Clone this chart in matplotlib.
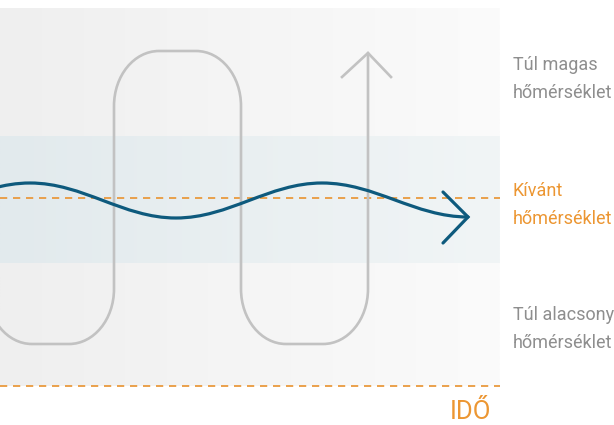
import numpy as np
import matplotlib
matplotlib.use("Agg")
import matplotlib.pyplot as plt
from matplotlib.path import Path
from matplotlib.patches import PathPatch
from matplotlib.colors import LinearSegmentedColormap

# ---- data (diagram in pixel-like coordinates, y grows downward) ----
panel_right = 500
panel_top, panel_bottom = 8, 386
band_top, band_bottom = 136, 263
desired_y = 198
# gray (uncontrolled) path: turning posts, high/low extreme
gray_posts = [-13, 114, 241, 368]
gray_high, gray_low = 51, 344
gray_tip = 53
# blue (controlled) wave: extreme points
wave_x = [-116, 30, 176, 322, 468]
wave_y = [218, 183, 218, 183, 217]
labels = ["Túl magas\nhőmérséklet", "Kívánt\nhőmérséklet", "Túl alacsony\nhőmérséklet"]
label_y = [79, 205, 329]
axis_label = "IDŐ"

GRAY_TXT = "#8e8e8e"
ORANGE = "#ec9632"
BLUE = "#0e5a7d"
LINE_GRAY = "#c2c2c2"

fig = plt.figure(figsize=(6.14, 4.25), dpi=100)
ax = fig.add_axes([0, 0, 1, 1])
ax.axis("off")

# background gradient panel
grad = np.linspace(0, 1, 256)[None, :]
bg_cmap = LinearSegmentedColormap.from_list("bg", ["#efefef", "#fbfbfb"])
band_cmap = LinearSegmentedColormap.from_list("band", ["#e2eaed", "#f1f5f6"])
ax.imshow(grad, cmap=bg_cmap, extent=[0, panel_right, panel_bottom, panel_top],
          aspect="auto", zorder=0, interpolation="bilinear")
ax.imshow(grad, cmap=band_cmap, extent=[0, panel_right, band_bottom, band_top],
          aspect="auto", zorder=0.5, interpolation="bilinear")
ax.set_xlim(0, 614)
ax.set_ylim(425, 0)

# dashed lines
dash = (0, (4, 3.2))
ax.plot([0, panel_right], [desired_y, desired_y], color="#e99a3e", lw=1.3,
        linestyle=dash, zorder=2)
ax.plot([0, panel_right], [panel_bottom, panel_bottom], color="#e99a3e", lw=1.3,
        linestyle=dash, zorder=2)

# gray path built from the posts
rx, ry = 45, 55
k = 0.5523
verts = [(gray_posts[0], 200)]
codes = [Path.MOVETO]
for i in range(len(gray_posts) - 1):
    xa, xb = gray_posts[i], gray_posts[i + 1]
    yext = gray_low if i % 2 == 0 else gray_high
    s = 1 if i % 2 == 0 else -1
    verts += [(xa, yext - s * ry)]
    codes += [Path.LINETO]
    verts += [(xa, yext - s * ry + s * k * ry), (xa + rx - k * rx, yext), (xa + rx, yext)]
    codes += [Path.CURVE4] * 3
    verts += [(xb - rx, yext)]
    codes += [Path.LINETO]
    verts += [(xb - rx + k * rx, yext), (xb, yext - s * ry + s * k * ry), (xb, yext - s * ry)]
    codes += [Path.CURVE4] * 3
verts += [(gray_posts[-1], gray_tip)]
codes += [Path.LINETO]
ax.add_patch(PathPatch(Path(verts, codes), facecolor="none", edgecolor=LINE_GRAY,
                       lw=1.9, zorder=3, capstyle="round", joinstyle="round"))
ax.plot([gray_posts[-1] - 26, gray_posts[-1], gray_posts[-1] + 23],
        [gray_tip + 24, gray_tip, gray_tip + 24], color=LINE_GRAY, lw=1.9, zorder=3,
        solid_joinstyle="miter")

# blue wave via bezier segments between extremes
wv = [(wave_x[0], wave_y[0])]
wc = [Path.MOVETO]
c = 0.364
for i in range(len(wave_x) - 1):
    x0, y0, x1, y1 = wave_x[i], wave_y[i], wave_x[i + 1], wave_y[i + 1]
    d = x1 - x0
    wv += [(x0 + c * d, y0), (x1 - c * d, y1), (x1, y1)]
    wc += [Path.CURVE4] * 3
ax.add_patch(PathPatch(Path(wv, wc), facecolor="none", edgecolor=BLUE, lw=2.3,
                       zorder=4, capstyle="round"))
tx, ty = wave_x[-1], wave_y[-1]
ax.plot([tx - 25, tx, tx - 25], [ty - 25, ty, ty + 26], color=BLUE, lw=2.3,
        zorder=4, solid_capstyle="round", solid_joinstyle="miter")

# labels
font = dict(family=["Roboto", "DejaVu Sans"], fontweight="normal")
colors = [GRAY_TXT, ORANGE, GRAY_TXT]
for lab, y, col in zip(labels, label_y, colors):
    ax.text(513, y, lab, color=col, fontsize=13, ha="left", va="center",
            linespacing=1.7, **font)
ax.text(471, 424, axis_label, color=ORANGE, fontsize=18.5, ha="center",
        va="bottom", **font)

fig.savefig("out.png", dpi=100)
